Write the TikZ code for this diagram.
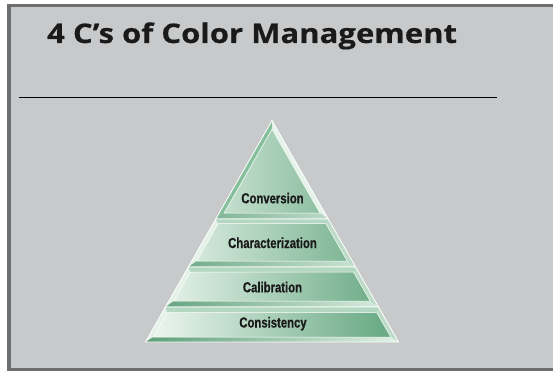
\documentclass[tikz,border=0pt]{standalone}
\usepackage{fontspec}
\setmainfont{Open Sans}
\newfontfamily\titlefont[FakeStretch=1.15, BoldFeatures={FakeBold=0.4}]{Open Sans}
\newfontfamily\condfont[FakeStretch=0.78, BoldFeatures={FakeBold=0.6}]{Liberation Sans}
\definecolor{bg}{HTML}{C8C9CB}
\definecolor{framec}{HTML}{6D6E70}
\definecolor{faceL}{HTML}{F0F8F2}
\definecolor{faceR}{HTML}{62A67E}
\definecolor{botL}{HTML}{5D9F78}
\definecolor{botR}{HTML}{E0F0E5}
\definecolor{topbev}{HTML}{B3D7C0}
\definecolor{lbevc}{HTML}{E3F1E7}
\definecolor{rbevc}{HTML}{BCDCC7}
\definecolor{lbevt}{HTML}{86BF9B}
\definecolor{rbevt}{HTML}{E6F3EA}
\definecolor{txt}{HTML}{1A1A1A}
\tikzset{
  lbl/.style={anchor=base, inner sep=0pt, text=txt, font=\condfont\bfseries\fontsize{14.5}{16}\selectfont},
  ttl/.style={anchor=base west, inner sep=0pt, text=txt, font=\titlefont\bfseries\fontsize{27}{30}\selectfont},
  edgeline/.style={draw=white, line width=0.8pt, line join=miter},
  faceline/.style={draw=white, line width=0.5pt, line join=miter}
}
% #1 yt, #2 yb, #3 top bevel, #4 bottom bevel, #5 side width, #6 left bevel colour, #7 right bevel colour
\newcommand\mylayer[7]{%
  \pgfmathsetmacro\ya{#1}\pgfmathsetmacro\yb{#2}%
  \pgfmathsetmacro\yc{#1+#3}\pgfmathsetmacro\yd{#2-#4}%
  \pgfmathsetmacro\xa{272-0.5711*(\ya-120.5)}\pgfmathsetmacro\xA{544-\xa}%
  \pgfmathsetmacro\xb{272-0.5711*(\yb-120.5)}\pgfmathsetmacro\xB{544-\xb}%
  \pgfmathsetmacro\xc{272-0.5711*(\yc-120.5)+#5}\pgfmathsetmacro\xC{544-\xc}%
  \pgfmathsetmacro\xd{272-0.5711*(\yd-120.5)+#5}\pgfmathsetmacro\xD{544-\xd}%
  \fill[#6] (\xa,\ya) -- (\xc,\yc) -- (\xd,\yd) -- (\xb,\yb) -- cycle;
  \fill[#7] (\xA,\ya) -- (\xC,\yc) -- (\xD,\yd) -- (\xB,\yb) -- cycle;
  \fill[topbev] (\xa,\ya) -- (\xA,\ya) -- (\xC,\yc) -- (\xc,\yc) -- cycle;
  \begin{scope}
    \clip (\xd,\yd) -- (\xD,\yd) -- (\xB,\yb) -- (\xb,\yb) -- cycle;
    \shade[left color=botL, right color=botR] (145.5,100) rectangle (398.5,350);
  \end{scope}
  \begin{scope}
    \clip (\xc,\yc) -- (\xC,\yc) -- (\xD,\yd) -- (\xd,\yd) -- cycle;
    \shade[left color=faceL, right color=faceR] (145.5,100) rectangle (398.5,350);
  \end{scope}
  \draw[faceline] (\xc,\yc) -- (\xC,\yc) -- (\xD,\yd) -- (\xd,\yd) -- cycle;
  \draw[edgeline] (\xa,\ya) -- (\xA,\ya) -- (\xB,\yb) -- (\xb,\yb) -- cycle;
}
\begin{document}
\begin{tikzpicture}[x=1pt, y=-1pt]
\useasboundingbox (0,0) rectangle (553,371);
\fill[white] (0,0) rectangle (553,371);
\draw[framec, line width=3.3pt, fill=bg] (9,5.7) rectangle (560,369.5);
\node[ttl] (title) at (47,43) {4 C’s of Color Management};
\coordinate (rl) at (19,97);
\coordinate (rr) at (497,97);
\draw[black, line width=0.9pt] (rl) -- (rr);
\mylayer{120.5}{219}{8.75}{6}{5}{lbevt}{rbevt}
\mylayer{219}{267}{4.5}{6}{5}{lbevc}{rbevc}
\mylayer{267}{307}{5}{6}{5}{lbevc}{rbevc}
\mylayer{307}{342}{5.5}{5}{5}{lbevc}{rbevc}
\node[lbl] (conv) at (272.5,203.3) {Conversion};
\node[lbl] (char) at (272.5,248) {Characterization};
\node[lbl] (cal) at (272.5,292.3) {Calibration};
\node[lbl] (cons) at (273,327.5) {Consistency};
\end{tikzpicture}
\end{document}
